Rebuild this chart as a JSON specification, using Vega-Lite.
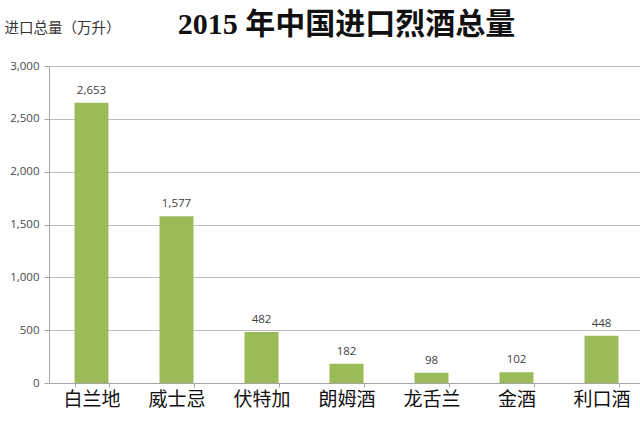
{
  "$schema": "https://vega.github.io/schema/vega-lite/v6.json",
  "autosize": "none",
  "width": 595,
  "height": 317,
  "padding": {"left": 49, "top": 66, "right": 0, "bottom": 44},
  "background": "white",
  "title": {
    "text": "2015 年中国进口烈酒总量",
    "font": "Liberation Serif, Noto Sans CJK SC",
    "fontSize": 30,
    "fontWeight": "bold",
    "color": "#111111",
    "anchor": "middle",
    "offset": -20
  },
  "data": {
    "values": [
      {"category": "白兰地", "value": 2653},
      {"category": "威士忌", "value": 1577},
      {"category": "伏特加", "value": 482},
      {"category": "朗姆酒", "value": 182},
      {"category": "龙舌兰", "value": 98},
      {"category": "金酒", "value": 102},
      {"category": "利口酒", "value": 448}
    ]
  },
  "encoding": {
    "x": {
      "field": "category",
      "type": "nominal",
      "sort": null,
      "scale": {"paddingInner": 0.6, "paddingOuter": 0.3},
      "axis": {
        "title": null,
        "labelAngle": 0,
        "labelFont": "Noto Sans CJK SC",
        "labelFontSize": 19,
        "labelColor": "#111111",
        "labelPadding": 3,
        "domainColor": "#a6a6a6",
        "tickColor": "#a6a6a6",
        "tickBand": "extent",
        "tickSize": 4,
        "grid": false
      }
    },
    "y": {
      "field": "value",
      "type": "quantitative",
      "scale": {"domain": [0, 3000], "nice": false},
      "axis": {
        "values": [0, 500, 1000, 1500, 2000, 2500, 3000],
        "format": ",d",
        "title": "进口总量（万升）",
        "titleFont": "Noto Sans CJK SC",
        "titleFontSize": 14.5,
        "titleFontWeight": "normal",
        "titleColor": "#333333",
        "titleAngle": 0,
        "titleAlign": "left",
        "titleBaseline": "middle",
        "titleX": -45,
        "titleY": -38,
        "labelFont": "Open Sans",
        "labelFontSize": 11.5,
        "labelColor": "#4a4a4a",
        "labelPadding": 5,
        "domainColor": "#a6a6a6",
        "tickColor": "#a6a6a6",
        "tickSize": 5,
        "gridColor": "#bdbdbd",
        "gridWidth": 1.2
      }
    }
  },
  "layer": [
    {"mark": {"type": "bar", "color": "#9bbb59"}},
    {
      "mark": {"type": "text", "dy": -12, "font": "Open Sans", "fontSize": 11.5, "color": "#404040"},
      "encoding": {"text": {"field": "value", "type": "quantitative", "format": ",d"}}
    }
  ],
  "config": {"view": {"stroke": null}}
}
